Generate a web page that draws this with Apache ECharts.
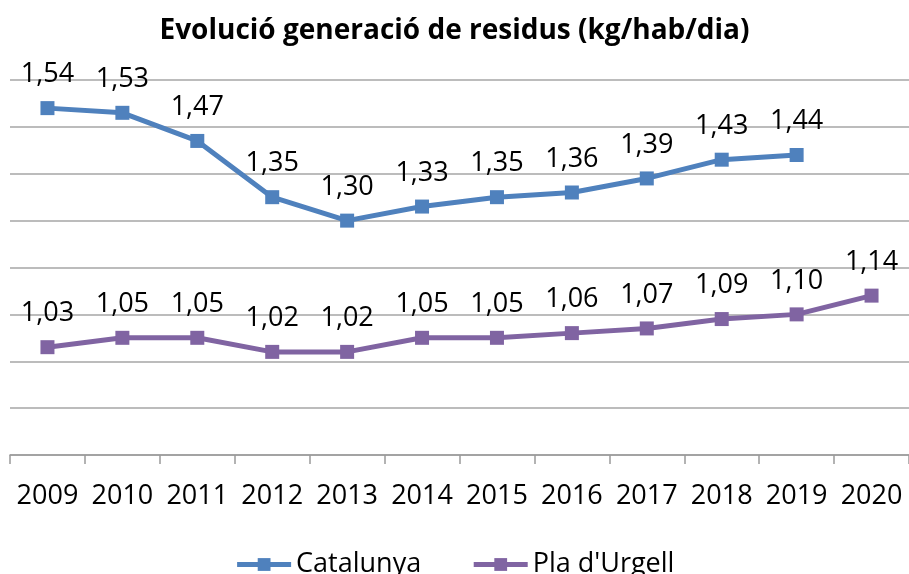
<!DOCTYPE html>
<html><head><meta charset="utf-8">
<script src="https://cdn.jsdelivr.net/npm/echarts@6/dist/echarts.min.js"></script>
<style>html,body{margin:0;padding:0;background:#fff}#c{width:909px;height:574px}</style>
</head><body><div id="c"></div>
<script>
const years = ['2009','2010','2011','2012','2013','2014','2015','2016','2017','2018','2019','2020'];
const catalunya = [1.54,1.53,1.47,1.35,1.30,1.33,1.35,1.36,1.39,1.43,1.44,null];
const plaUrgell = [1.03,1.05,1.05,1.02,1.02,1.05,1.05,1.06,1.07,1.09,1.10,1.14];
const FONT = '"Open Sans", "Noto Sans", sans-serif';
const fmt = p => p.value == null ? '' : p.value.toFixed(2).replace('.', ',');
const chart = echarts.init(document.getElementById('c'));
function mkSeries(name, data, color){
  return {
    name, type:'line', data, color,
    symbol:'rect', symbolSize:14, showAllSymbol:true,
    lineStyle:{width:5, color},
    itemStyle:{color},
    label:{show:true, position:'top', distance:13, formatter:fmt, fontSize:27, fontFamily:FONT, color:'#000'},
    connectNulls:false, animation:false
  };
}
chart.setOption({
  animation:false,
  title:{text:'Evolució generació de residus (kg/hab/dia)', left:'center', top:12,
    textStyle:{fontFamily:FONT, fontWeight:'bold', fontSize:28, color:'#000'}},
  grid:{left:10, width:900, top:80, bottom:119},
  legend:{top:546, left:'center', itemWidth:54, itemHeight:16, itemGap:50,
    lineStyle:{width:5},
    textStyle:{fontFamily:FONT, fontSize:27, color:'#000'},
    data:['Catalunya',"Pla d'Urgell"]},
  xAxis:{type:'category', data:years, boundaryGap:true,
    axisLine:{lineStyle:{color:'#9a9a9a', width:1.5}},
    axisTick:{show:true, length:9, lineStyle:{color:'#9a9a9a', width:1.5}},
    axisLabel:{fontFamily:FONT, fontSize:27, color:'#000', margin:28, interval:0}},
  yAxis:{type:'value', min:0.8, max:1.6, interval:0.1,
    axisLabel:{show:false}, axisLine:{show:false}, axisTick:{show:false},
    splitLine:{lineStyle:{color:'#a6a6a6', width:1.5}}},
  series:[mkSeries('Catalunya', catalunya, '#4F81BD'), mkSeries("Pla d'Urgell", plaUrgell, '#8064A2')]
});
</script></body></html>
